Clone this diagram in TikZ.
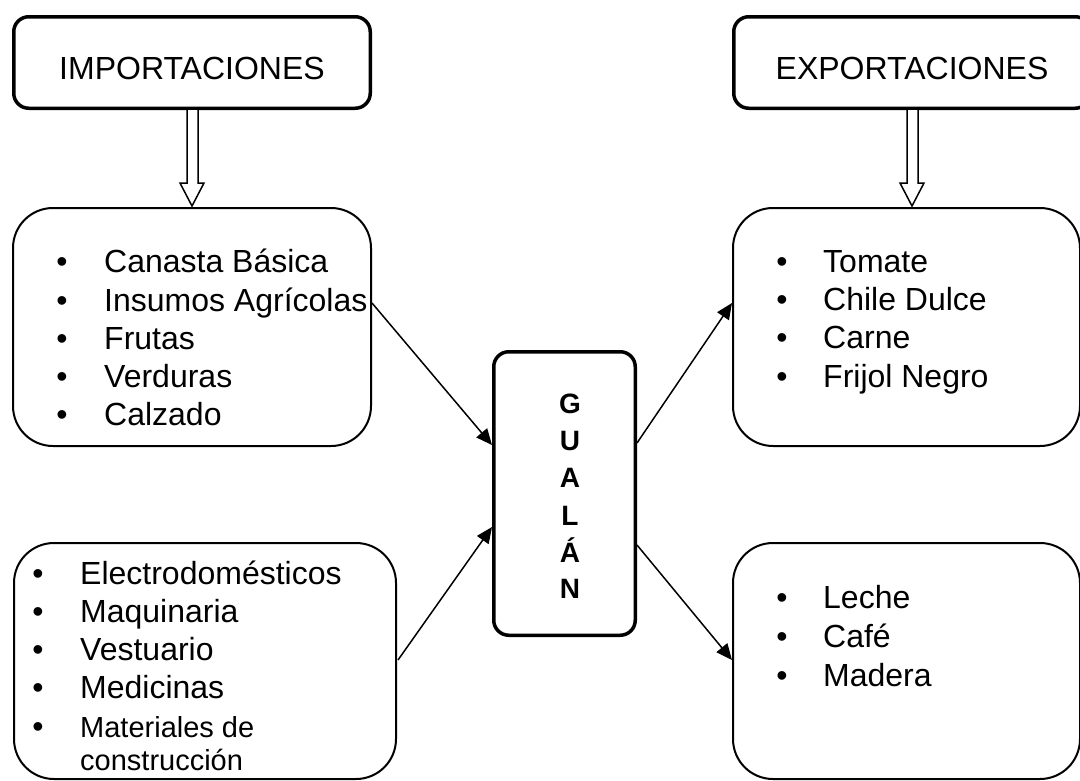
\documentclass[tikz,border=0pt]{standalone}
\usepackage{fontspec}
\setmainfont{Liberation Sans}
\usetikzlibrary{arrows.meta}
\begin{document}
\begin{tikzpicture}[x=1pt,y=-1pt,
  hbox/.style={draw, line width=3.5pt, rounded corners=15pt, inner sep=0pt, outer sep=0pt},
  lbox/.style={draw, line width=2pt, rounded corners=40pt, inner sep=0pt, outer sep=0pt},
  htext/.style={anchor=base, inner sep=0pt, font=\fontsize{32}{38}\selectfont},
  item/.style={anchor=base west, inner sep=0pt, font=\fontsize{32}{38}\selectfont},
  smallitem/.style={anchor=base west, inner sep=0pt, font=\fontsize{29}{35}\selectfont},
  bul/.style={anchor=base, inner sep=0pt, font=\fontsize{32}{38}\selectfont},
  letter/.style={anchor=base, inner sep=0pt, font=\fontsize{28}{34}\selectfont\bfseries},
  conn/.style={line width=1.5pt, -{Triangle[length=16pt,width=14pt]}},
  hollow/.style={draw, line width=1.5pt, fill=white, line join=miter}]
\useasboundingbox (0,0) rectangle (1080,780);
\clip (0,0) rectangle (1080,780);

% header boxes
\node[hbox, minimum width=356.5pt, minimum height=91.5pt] (imp) at (192,62.5) {};
\node[hbox, minimum width=356.5pt, minimum height=91.5pt] (exp) at (912,62.5) {};
\node[htext] (impt) at (192,79) {IMPORTACIONES};
\node[htext] (expt) at (912,79) {EXPORTACIONES};

% hollow arrows
\draw[hollow] (187,110) -- (187,183) -- (180,183) -- (192,206) -- (204,183) -- (198,183) -- (198,110);
\draw[hollow] (907,110) -- (907,183) -- (900,183) -- (912,206) -- (924,183) -- (918,183) -- (918,110);

% list boxes
\node[lbox, minimum width=358pt, minimum height=238pt] (ia) at (192,327) {};
\node[lbox, minimum width=347pt, minimum height=238pt] (ea) at (906.5,327) {};
\node[lbox, minimum width=382pt, minimum height=236pt] (ib) at (205,661) {};
\node[lbox, minimum width=347pt, minimum height=236pt] (eb) at (906.5,661) {};

% center box
\node[hbox, minimum width=141.5pt, minimum height=283.5pt] (gu) at (564.5,493.5) {};
\foreach \l/\y [count=\i] in {G/413, U/450, A/487, L/525, Á/562, N/598}
  \node[letter] (g\i) at (570,\y) {\l};

% items: importaciones (top)
\foreach \t [count=\i] in {Canasta Básica, Insumos Agrícolas, Frutas, Verduras, Calzado} {
  \node[bul] (iab\i) at (62,{272.7+38.3*(\i-1)}) {•};
  \node[item] (iat\i) at (104,{272.7+38.3*(\i-1)}) {\t};
}
% items: exportaciones (top)
\foreach \t [count=\i] in {Tomate, Chile Dulce, Carne, Frijol Negro} {
  \node[bul] (eab\i) at (782,{272+38.4*(\i-1)}) {•};
  \node[item] (eat\i) at (823,{272+38.4*(\i-1)}) {\t};
}
% items: importaciones (bottom)
\foreach \t [count=\i] in {Electrodomésticos, Maquinaria, Vestuario, Medicinas} {
  \node[bul] (ibb\i) at (38,{584+38.3*(\i-1)}) {•};
  \node[item] (ibt\i) at (80,{584+38.3*(\i-1)}) {\t};
}
\node[bul] (ibb5) at (38,737) {•};
\node[smallitem] (ibt5) at (80,737) {Materiales de};
\node[smallitem] (ibt6) at (80,770) {construcción};
% items: exportaciones (bottom)
\foreach \t [count=\i] in {Leche, Café, Madera} {
  \node[bul] (ebb\i) at (782,{608+39*(\i-1)}) {•};
  \node[item] (ebt\i) at (823,{608+39*(\i-1)}) {\t};
}

% connectors
\coordinate (c1s) at (372,303);
\coordinate (c1e) at (492,445);
\coordinate (c2s) at (398,660);
\coordinate (c2e) at (492,527);
\coordinate (c3s) at (637,443);
\coordinate (c3e) at (732,303);
\coordinate (c4s) at (637,545);
\coordinate (c4e) at (732,660);
\draw[conn] (c1s) -- (c1e);
\draw[conn] (c2s) -- (c2e);
\draw[conn] (c3s) -- (c3e);
\draw[conn] (c4s) -- (c4e);
\end{tikzpicture}
\end{document}
